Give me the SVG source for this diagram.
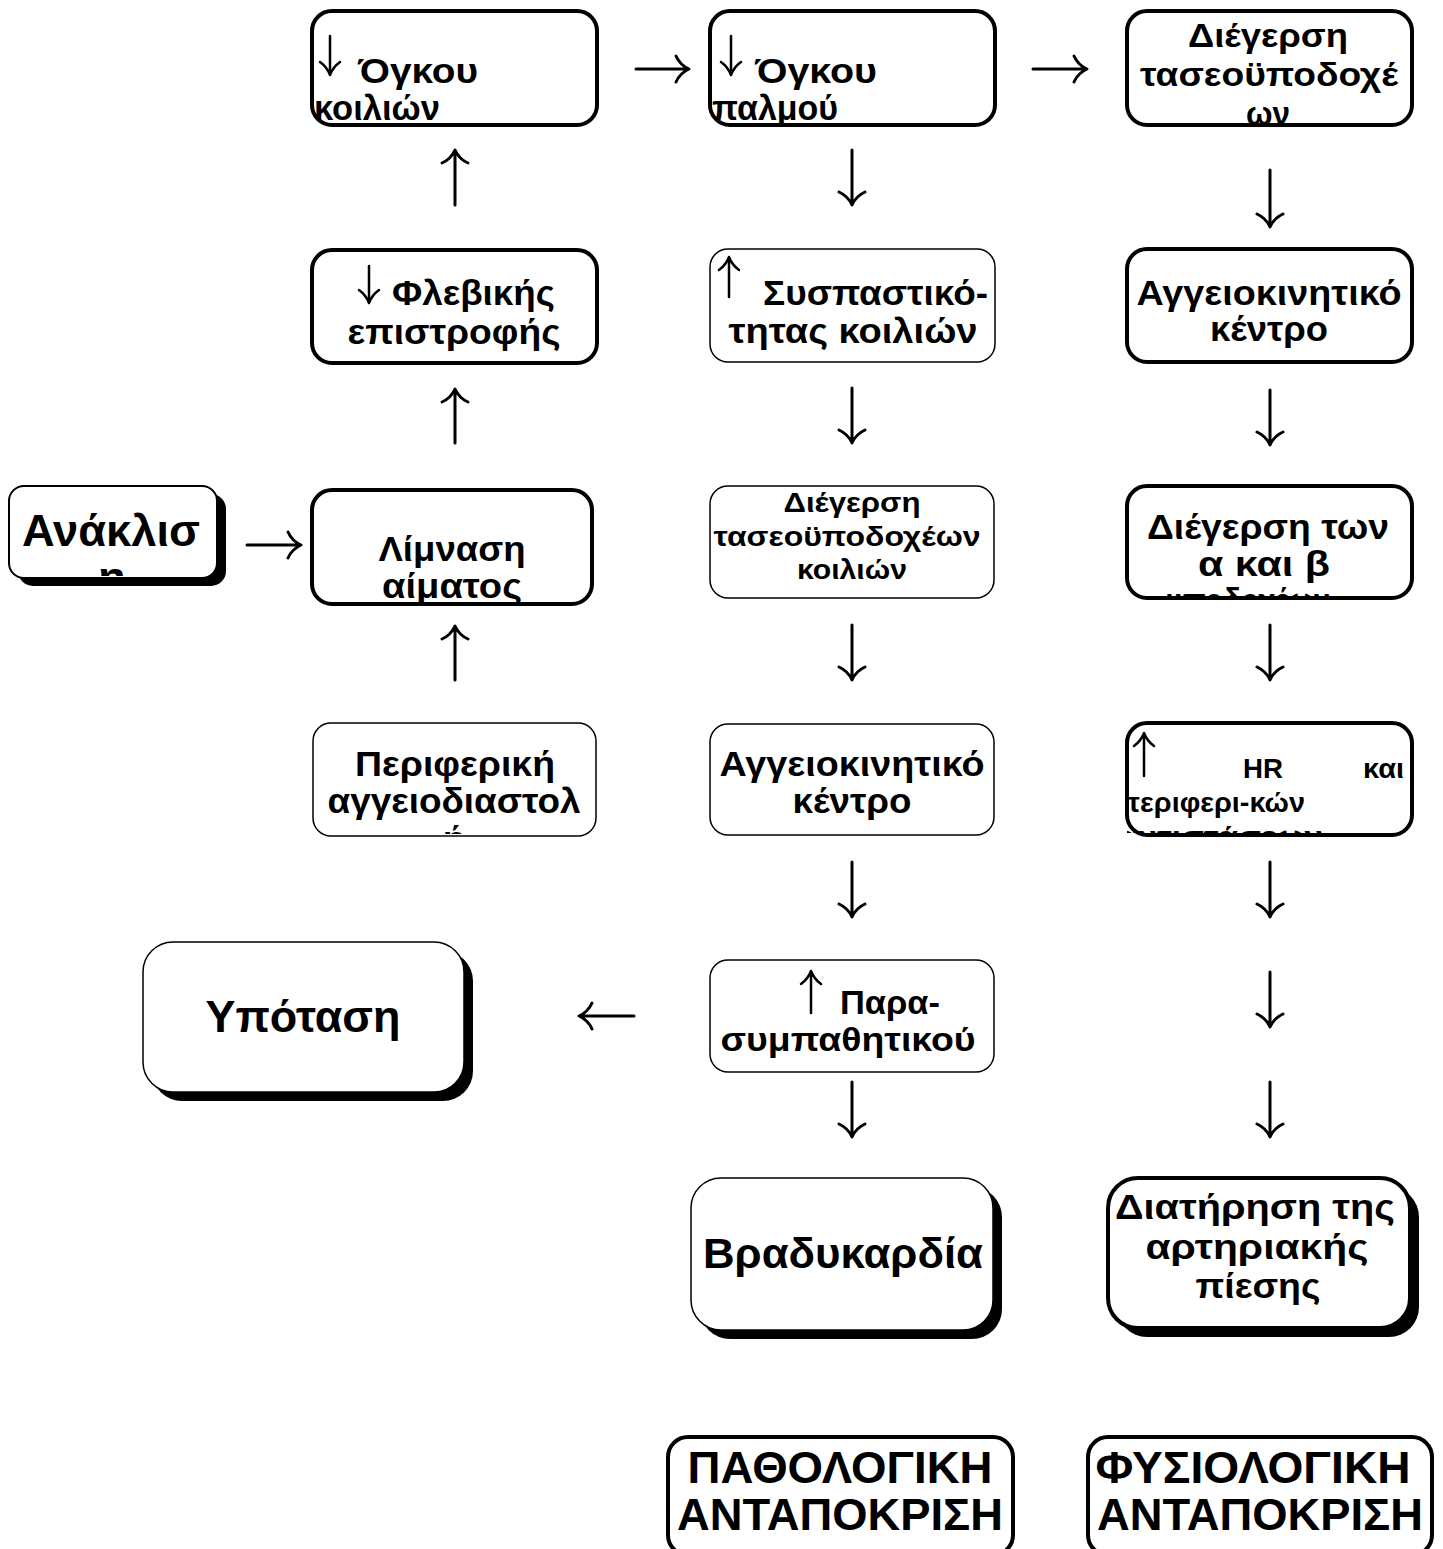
<svg xmlns="http://www.w3.org/2000/svg" width="1443" height="1549" viewBox="0 0 1443 1549">
<style>
.box{fill:#fff;stroke:#000}
.thick{stroke-width:4}
.thin{stroke-width:1.5}
.sh{fill:#000}
.t{font-family:"Liberation Sans",Arial,sans-serif;font-weight:bold;fill:#000}
.lab{font-family:"Liberation Sans",Arial,sans-serif;font-weight:bold;fill:#000}
.c{text-anchor:middle}
.arr{fill:none;stroke:#000;stroke-width:3;stroke-linecap:round;stroke-linejoin:round}
</style>
<defs>
<clipPath id="cA"><rect x="312" y="11" width="285" height="112"/></clipPath>
<clipPath id="cP"><rect x="710" y="11" width="285" height="112"/></clipPath>
<clipPath id="cT"><rect x="1127" y="11" width="285" height="112"/></clipPath>
<clipPath id="cL"><rect x="312" y="490" width="280" height="112"/></clipPath>
<clipPath id="cAn"><rect x="9" y="486" width="208" height="90"/></clipPath>
<clipPath id="cAB"><rect x="1127" y="486" width="285" height="110"/></clipPath>
<clipPath id="cPA"><rect x="313" y="723" width="283" height="111"/></clipPath>
<clipPath id="cHR"><rect x="1127" y="723" width="285" height="110"/></clipPath>
</defs>

<g id="connectors">
<path class="arr" d="M636,69 H688 M676,56 Q680,65 689,69 Q680,73 676,82"/>
<path class="arr" d="M1033,69 H1086 M1074,56 Q1078,65 1087,69 Q1078,73 1074,82"/>
<path class="arr" d="M247,545 H300 M288,532 Q292,541 301,545 Q292,549 288,558"/>
<path class="arr" d="M634,1016 H580 M592,1003 Q588,1012 579,1016 Q588,1020 592,1029"/>
<path class="arr" d="M455,205 V151 M442,163 Q451,159 455,150 Q459,159 468,163"/>
<path class="arr" d="M455,443 V390 M442,402 Q451,398 455,389 Q459,398 468,402"/>
<path class="arr" d="M455,680 V627 M442,639 Q451,635 455,626 Q459,635 468,639"/>
<path class="arr" d="M852,150 V204 M839,192 Q848,196 852,205 Q856,196 865,192"/>
<path class="arr" d="M852,388 V442 M839,430 Q848,434 852,443 Q856,434 865,430"/>
<path class="arr" d="M852,625 V679 M839,667 Q848,671 852,680 Q856,671 865,667"/>
<path class="arr" d="M852,862 V916 M839,904 Q848,908 852,917 Q856,908 865,904"/>
<path class="arr" d="M852,1082 V1136 M839,1124 Q848,1128 852,1137 Q856,1128 865,1124"/>
<path class="arr" d="M1270,170 V226 M1257,214 Q1266,218 1270,227 Q1274,218 1283,214"/>
<path class="arr" d="M1270,390 V444 M1257,432 Q1266,436 1270,445 Q1274,436 1283,432"/>
<path class="arr" d="M1270,625 V679 M1257,667 Q1266,671 1270,680 Q1274,671 1283,667"/>
<path class="arr" d="M1270,862 V916 M1257,904 Q1266,908 1270,917 Q1274,908 1283,904"/>
<path class="arr" d="M1270,972 V1026 M1257,1014 Q1266,1018 1270,1027 Q1274,1018 1283,1014"/>
<path class="arr" d="M1270,1082 V1136 M1257,1124 Q1266,1128 1270,1137 Q1274,1128 1283,1124"/>
</g>

<g id="n-ogkou-koilion">
<rect class="box thick" x="312" y="11" width="285" height="114" rx="20"/>
<g clip-path="url(#cA)">
<path class="arr" d="M330,36 V74 M320,62 Q327,67 330,75 Q333,67 340,62" style="stroke-width:2.5"/>
<text class="t" x="358" y="83" font-size="35" textLength="120" lengthAdjust="spacingAndGlyphs">Όγκου</text>
<text class="t" x="314" y="120" font-size="35" textLength="126" lengthAdjust="spacingAndGlyphs">κοιλιών</text>
</g>
</g>

<g id="n-ogkou-palmou">
<rect class="box thick" x="710" y="11" width="285" height="114" rx="20"/>
<g clip-path="url(#cP)">
<path class="arr" d="M731,36 V74 M721,62 Q728,67 731,75 Q734,67 741,62" style="stroke-width:2.5"/>
<text class="t" x="755" y="83" font-size="35" textLength="122" lengthAdjust="spacingAndGlyphs">Όγκου</text>
<text class="t" x="712" y="120" font-size="35" textLength="126" lengthAdjust="spacingAndGlyphs">παλμού</text>
</g>
</g>

<g id="n-diegersi-1">
<rect class="box thick" x="1127" y="11" width="285" height="114" rx="20"/>
<g clip-path="url(#cT)">
<text class="t c" x="1268" y="47" font-size="34" textLength="160" lengthAdjust="spacingAndGlyphs">Διέγερση</text>
<text class="t c" x="1269" y="86" font-size="34" textLength="258" lengthAdjust="spacingAndGlyphs">τασεοϋποδοχέ</text>
<text class="t c" x="1268" y="125" font-size="34" textLength="44" lengthAdjust="spacingAndGlyphs">ων</text>
</g>
</g>

<g id="n-flevikis">
<rect class="box thick" x="312" y="250" width="285" height="113" rx="20"/>
<path class="arr" d="M369,266 V302 M359,290 Q366,295 369,303 Q372,295 379,290" style="stroke-width:2.5"/>
<text class="t" x="392" y="305" font-size="35" textLength="163" lengthAdjust="spacingAndGlyphs">Φλεβικής</text>
<text class="t c" x="454" y="344" font-size="35" textLength="213" lengthAdjust="spacingAndGlyphs">επιστροφής</text>
</g>

<g id="n-syspastikotitas">
<rect class="box thin" x="710" y="249" width="285" height="113" rx="18"/>
<path class="arr" d="M729,297 V258 M719,270 Q726,265 729,257 Q732,265 739,270" style="stroke-width:2.5"/>
<text class="t" x="763" y="305" font-size="35" textLength="225" lengthAdjust="spacingAndGlyphs">Συσπαστικό-</text>
<text class="t c" x="853" y="343" font-size="35" textLength="249" lengthAdjust="spacingAndGlyphs">τητας κοιλιών</text>
</g>

<g id="n-aggeiokinitiko-1">
<rect class="box thick" x="1127" y="249" width="285" height="113" rx="20"/>
<text class="t c" x="1269" y="305" font-size="35" textLength="265" lengthAdjust="spacingAndGlyphs">Αγγειοκινητικό</text>
<text class="t c" x="1269" y="341" font-size="35" textLength="118" lengthAdjust="spacingAndGlyphs">κέντρο</text>
</g>

<g id="n-anaklisi">
<rect class="sh" x="18" y="494" width="208" height="92" rx="15"/>
<rect class="box" x="9" y="486" width="208" height="92" rx="15" stroke-width="2"/>
<g clip-path="url(#cAn)">
<text class="t c" x="111" y="546" font-size="45" textLength="178" lengthAdjust="spacingAndGlyphs">Ανάκλισ</text>
<text class="t c" x="112" y="593" font-size="45">η</text>
</g>
</g>

<g id="n-limnasi">
<rect class="box thick" x="312" y="490" width="280" height="114" rx="20"/>
<g clip-path="url(#cL)">
<text class="t c" x="452" y="561" font-size="35" textLength="147" lengthAdjust="spacingAndGlyphs">Λίμναση</text>
<text class="t c" x="452" y="598" font-size="35" textLength="140" lengthAdjust="spacingAndGlyphs">αίματος</text>
</g>
</g>

<g id="n-diegersi-koilion">
<rect class="box thin" x="710" y="486" width="284" height="112" rx="18"/>
<text class="t c" x="852" y="512" font-size="28" textLength="137" lengthAdjust="spacingAndGlyphs">Διέγερση</text>
<text class="t c" x="847" y="546" font-size="28" textLength="267" lengthAdjust="spacingAndGlyphs">τασεοϋποδοχέων</text>
<text class="t c" x="852" y="579" font-size="28" textLength="110" lengthAdjust="spacingAndGlyphs">κοιλιών</text>
</g>

<g id="n-diegersi-ab">
<rect class="box thick" x="1127" y="486" width="285" height="112" rx="20"/>
<g clip-path="url(#cAB)">
<text class="t c" x="1268" y="539" font-size="35" textLength="242" lengthAdjust="spacingAndGlyphs">Διέγερση των</text>
<text class="t c" x="1264" y="576" font-size="35" textLength="132" lengthAdjust="spacingAndGlyphs">α και β</text>
<text class="t c" x="1248" y="613" font-size="35" textLength="165" lengthAdjust="spacingAndGlyphs">υποδοχέων</text>
</g>
</g>

<g id="n-perifereiki">
<rect class="box thin" x="313" y="723" width="283" height="113" rx="18"/>
<g clip-path="url(#cPA)">
<text class="t c" x="455" y="776" font-size="35" textLength="200" lengthAdjust="spacingAndGlyphs">Περιφερική</text>
<text class="t c" x="454" y="813" font-size="35" textLength="253" lengthAdjust="spacingAndGlyphs">αγγειοδιαστολ</text>
<text class="t c" x="454" y="851" font-size="35">ή</text>
</g>
</g>

<g id="n-aggeiokinitiko-2">
<rect class="box thin" x="710" y="724" width="284" height="111" rx="18"/>
<text class="t c" x="852" y="776" font-size="35" textLength="265" lengthAdjust="spacingAndGlyphs">Αγγειοκινητικό</text>
<text class="t c" x="852" y="813" font-size="35" textLength="119" lengthAdjust="spacingAndGlyphs">κέντρο</text>
</g>

<g id="n-hr">
<rect class="box thick" x="1127" y="723" width="285" height="112" rx="20"/>
<g clip-path="url(#cHR)">
<path class="arr" d="M1144,776 V734 M1134,746 Q1141,741 1144,733 Q1147,741 1154,746" style="stroke-width:2.5"/>
<text class="t" x="1243" y="778" font-size="28" textLength="40" lengthAdjust="spacingAndGlyphs">HR</text>
<text class="t" x="1363" y="778" font-size="28" textLength="41" lengthAdjust="spacingAndGlyphs">και</text>
<text class="t" x="1118" y="812" font-size="28" textLength="187" lengthAdjust="spacingAndGlyphs">περιφερι-κών</text>
<text class="t" x="1118" y="846" font-size="28" textLength="205" lengthAdjust="spacingAndGlyphs">αντιστάσεων</text>
</g>
</g>

<g id="n-ypotasi">
<rect class="sh" x="152" y="951" width="321" height="150" rx="30"/>
<rect class="box thin" x="143" y="942" width="321" height="150" rx="30"/>
<text class="t c" x="303" y="1032" font-size="45" textLength="195" lengthAdjust="spacingAndGlyphs">Υπόταση</text>
</g>

<g id="n-parasympathitikou">
<rect class="box thin" x="710" y="960" width="284" height="112" rx="18"/>
<path class="arr" d="M811,1013 V972 M801,984 Q808,979 811,971 Q814,979 821,984" style="stroke-width:2.5"/>
<text class="t" x="840" y="1014" font-size="33" textLength="100" lengthAdjust="spacingAndGlyphs">Παρα-</text>
<text class="t c" x="848" y="1051" font-size="33" textLength="255" lengthAdjust="spacingAndGlyphs">συμπαθητικού</text>
</g>

<g id="n-vradykardia">
<rect class="sh" x="700" y="1187" width="302" height="152" rx="30"/>
<rect class="box thin" x="691" y="1178" width="302" height="152" rx="30"/>
<text class="t c" x="843" y="1268" font-size="43" textLength="280" lengthAdjust="spacingAndGlyphs">Βραδυκαρδία</text>
</g>

<g id="n-diatirisi">
<rect class="sh" x="1117" y="1187" width="302" height="150" rx="30"/>
<rect class="box thick" x="1108" y="1178" width="302" height="150" rx="30"/>
<text class="t c" x="1255" y="1219" font-size="35" textLength="280" lengthAdjust="spacingAndGlyphs">Διατήρηση της</text>
<text class="t c" x="1257" y="1259" font-size="35" textLength="223" lengthAdjust="spacingAndGlyphs">αρτηριακής</text>
<text class="t c" x="1258" y="1298" font-size="35" textLength="125" lengthAdjust="spacingAndGlyphs">πίεσης</text>
</g>

<g id="n-pathologiki">
<rect class="box" x="668" y="1437" width="345" height="118" rx="20" stroke-width="4"/>
<text class="lab c" x="840" y="1483" font-size="44" textLength="305" lengthAdjust="spacingAndGlyphs">ΠΑΘΟΛΟΓΙΚΗ</text>
<text class="lab c" x="840" y="1530" font-size="44" textLength="326" lengthAdjust="spacingAndGlyphs">ΑΝΤΑΠΟΚΡΙΣΗ</text>
</g>

<g id="n-fysiologiki">
<rect class="box" x="1088" y="1437" width="344" height="118" rx="20" stroke-width="4"/>
<text class="lab c" x="1253" y="1483" font-size="44" textLength="315" lengthAdjust="spacingAndGlyphs">ΦΥΣΙΟΛΟΓΙΚΗ</text>
<text class="lab c" x="1260" y="1530" font-size="44" textLength="326" lengthAdjust="spacingAndGlyphs">ΑΝΤΑΠΟΚΡΙΣΗ</text>
</g>
</svg>
